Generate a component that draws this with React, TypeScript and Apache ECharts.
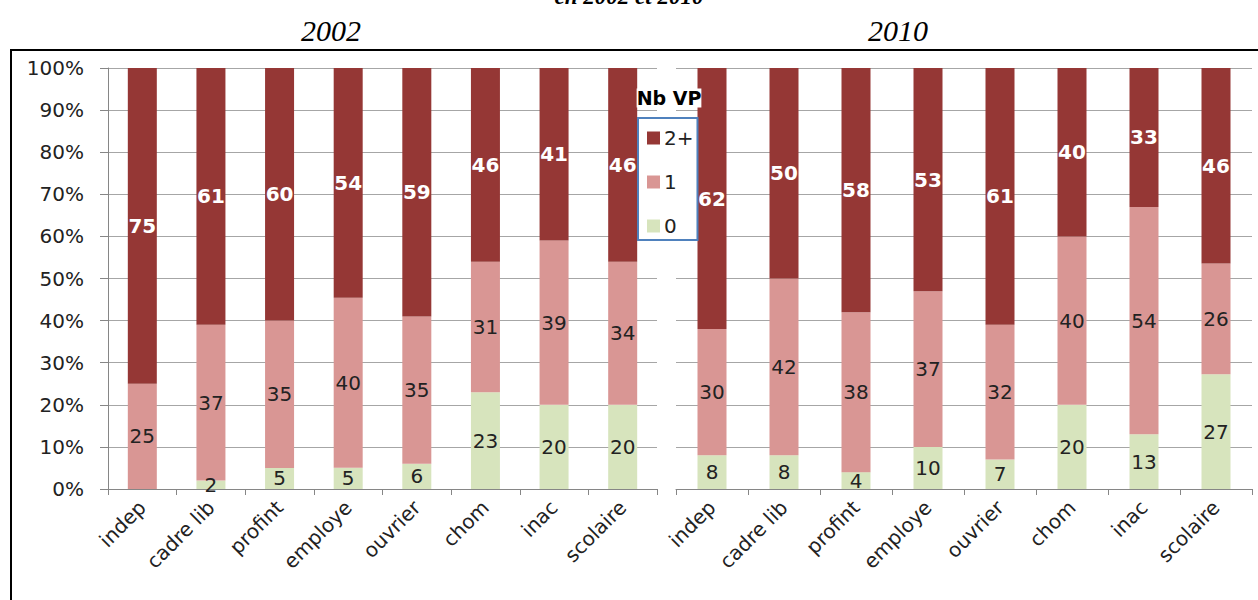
import React, { useEffect, useRef } from "react";
import * as echarts from "echarts";

const categories = ["indep", "cadre lib", "profint", "employe", "ouvrier", "chom", "inac", "scolaire"];
const yTicks = [0, 10, 20, 30, 40, 50, 60, 70, 80, 90, 100];

const nb2plus2002 = [75, 61, 60, 54, 59, 46, 41, 46];
const nb1_2002 = [25, 37, 35, 40, 35, 31, 39, 34];
const nb0_2002 = [0, 2, 5, 5, 6, 23, 20, 20];

const nb2plus2010 = [62, 50, 58, 53, 61, 40, 33, 46];
const nb1_2010 = [30, 42, 38, 37, 32, 40, 54, 26];
const nb0_2010 = [8, 8, 4, 10, 7, 20, 13, 27];

const seriesNames = ["2+", "1", "0"];
const colors: Record<string, string> = { "2+": "#953735", "1": "#d99694", "0": "#d7e4bd" };

const FONT = "DejaVu Sans";

function norm(vals: number[], a: number[], b: number[], c: number[]) {
  return vals.map((v, i) => {
    const s = a[i] + b[i] + c[i];
    return { value: (v / s) * 100, raw: v };
  });
}

function makeSeries(name: string, data: any[], idx: number) {
  const isTop = name === "2+";
  return {
    type: "bar",
    name,
    stack: "s" + idx,
    xAxisIndex: idx,
    yAxisIndex: idx,
    barWidth: 29,
    data,
    itemStyle: { color: colors[name] },
    label: {
      show: true,
      position: "inside",
      fontFamily: FONT,
      fontSize: 20,
      fontWeight: isTop ? "bold" : "normal",
      color: isTop ? "#ffffff" : "#222222",
      formatter: (p: any) => (p.data.raw === 0 ? "" : String(p.data.raw)),
    },
  };
}

export default function App() {
  const ref = useRef<HTMLDivElement>(null);
  useEffect(() => {
    if (!ref.current) return;
    const chart = echarts.init(ref.current, null, { renderer: "svg" });
    const xAxisBase = (gi: number) => ({
      type: "category",
      gridIndex: gi,
      data: categories,
      axisLine: { lineStyle: { color: "#868686", width: 1 } },
      axisTick: { show: true, length: 6, lineStyle: { color: "#868686" } },
      axisLabel: { rotate: 45, fontFamily: FONT, fontSize: 20, color: "#222", margin: 15 },
    });
    const yAxisBase = (gi: number, showLabels: boolean) => ({
      type: "value",
      gridIndex: gi,
      min: 0,
      max: 100,
      interval: 10,
      axisLine: { show: showLabels, lineStyle: { color: "#868686" } },
      axisTick: { show: showLabels, length: 8, lineStyle: { color: "#868686" } },
      axisLabel: {
        show: showLabels,
        fontFamily: FONT,
        fontSize: 20,
        color: "#222",
        margin: 24,
        formatter: (v: number) => (yTicks.includes(v) ? v + "%" : ""),
      },
      splitLine: { show: true, lineStyle: { color: "#a6a6a6", width: 1 } },
    });
    const option: any = {
      animation: false,
      backgroundColor: "#ffffff",
      grid: [
        { left: 108, right: 601, top: 68, bottom: 111 },
        { left: 676, right: 6, top: 68, bottom: 111 },
      ],
      xAxis: [xAxisBase(0), xAxisBase(1)],
      yAxis: [yAxisBase(0, true), yAxisBase(1, false)],
      legend: {
        data: seriesNames,
        orient: "vertical",
        left: 638,
        top: 118,
        padding: [10, 4, 4, 9],
        itemGap: 24,
        itemWidth: 13,
        itemHeight: 13,
        icon: "rect",
        backgroundColor: "#ffffff",
        borderColor: "#4f81bd",
        borderWidth: 2,
        textStyle: { fontFamily: FONT, fontSize: 20, color: "#222", padding: [0, 0, 0, -1] },
      },
      series: [
        makeSeries("0", norm(nb0_2002, nb0_2002, nb1_2002, nb2plus2002), 0),
        makeSeries("1", norm(nb1_2002, nb0_2002, nb1_2002, nb2plus2002), 0),
        makeSeries("2+", norm(nb2plus2002, nb0_2002, nb1_2002, nb2plus2002), 0),
        makeSeries("0", norm(nb0_2010, nb0_2010, nb1_2010, nb2plus2010), 1),
        makeSeries("1", norm(nb1_2010, nb0_2010, nb1_2010, nb2plus2010), 1),
        makeSeries("2+", norm(nb2plus2010, nb0_2010, nb1_2010, nb2plus2010), 1),
      ],
      graphic: [
        {
          type: "rect",
          shape: { x: 11, y: 50, width: 1260, height: 560 },
          style: { fill: "none", stroke: "#000", lineWidth: 2 },
          silent: true,
          z: 0,
        },
        {
          type: "text",
          x: 629,
          y: 8,
          style: {
            text: "en 2002 et 2010",
            fontFamily: "Liberation Serif",
            fontStyle: "italic",
            fontWeight: "bold",
            fontSize: 23,
            fill: "#000",
            align: "center",
            verticalAlign: "bottom",
          },
        },
        {
          type: "text",
          x: 331,
          y: 30,
          style: {
            text: "2002",
            fontFamily: "Liberation Serif",
            fontStyle: "italic",
            fontSize: 30,
            fill: "#000",
            align: "center",
            verticalAlign: "middle",
          },
        },
        {
          type: "text",
          x: 898,
          y: 30,
          style: {
            text: "2010",
            fontFamily: "Liberation Serif",
            fontStyle: "italic",
            fontSize: 30,
            fill: "#000",
            align: "center",
            verticalAlign: "middle",
          },
        },
        {
          type: "text",
          x: 669,
          y: 98,
          z: 100,
          style: {
            text: "Nb VP",
            fontFamily: FONT,
            fontWeight: "bold",
            fontSize: 19,
            fill: "#000",
            align: "center",
            verticalAlign: "middle",
            backgroundColor: "#ffffff",
          },
        },
      ],
    };
    chart.setOption(option);
    return () => chart.dispose();
  }, []);
  return (
    <div
      ref={ref}
      style={{ position: "fixed", left: 0, top: 0, width: 1258, height: 600 }}
    />
  );
}
